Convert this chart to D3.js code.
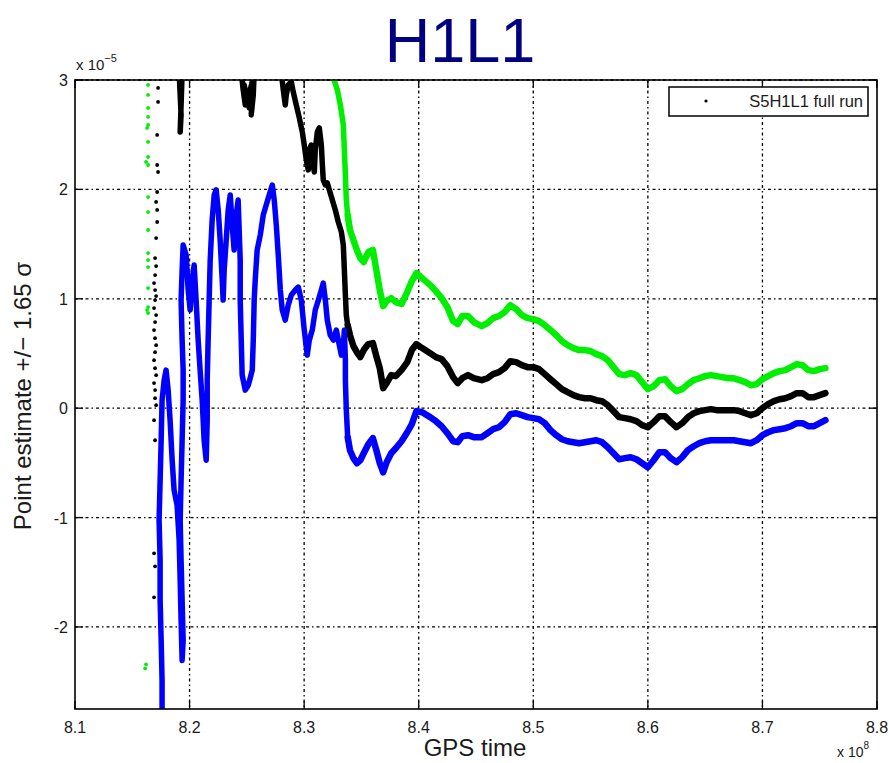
<!DOCTYPE html>
<html><head><meta charset="utf-8">
<script src="https://cdn.jsdelivr.net/npm/d3@7/dist/d3.min.js"></script>
<style>body{margin:0;background:#fff}svg{display:block}</style>
</head><body><svg id="c" width="889" height="763"></svg>
<script>
// ---------- data (GPS time in units of 1e8 s, values in units of 1e-5) ----------
const xTicks = [8.1, 8.2, 8.3, 8.4, 8.5, 8.6, 8.7, 8.8];
const yTicks = [-2, -1, 0, 1, 2, 3];
const legendLabel = "S5H1L1 full run";

// settled part of the run: common time grid for all three curves
const tailTime = [8.338,8.340,8.343,8.346,8.349,8.352,8.356,8.360,8.363,8.366,8.369,8.372,8.376,8.380,8.385,8.390,8.394,8.398,8.403,8.410,8.415,8.420,8.425,8.430,8.434,8.438,8.443,8.448,8.455,8.460,8.465,8.470,8.475,8.480,8.485,8.490,8.495,8.500,8.505,8.510,8.515,8.520,8.525,8.530,8.535,8.540,8.545,8.550,8.555,8.560,8.565,8.570,8.575,8.580,8.585,8.590,8.595,8.600,8.605,8.610,8.615,8.620,8.625,8.630,8.635,8.640,8.645,8.650,8.655,8.660,8.665,8.670,8.675,8.680,8.685,8.690,8.695,8.700,8.705,8.710,8.715,8.720,8.725,8.730,8.735,8.740,8.745,8.750,8.755];
const tailGreen = [1.766,1.629,1.537,1.446,1.372,1.336,1.427,1.446,1.263,1.080,0.933,0.979,1.006,0.970,0.952,1.061,1.162,1.235,1.189,1.125,1.070,1.006,0.924,0.796,0.769,0.842,0.842,0.787,0.750,0.778,0.823,0.842,0.878,0.942,0.906,0.851,0.823,0.814,0.796,0.759,0.714,0.668,0.613,0.576,0.549,0.531,0.531,0.522,0.494,0.476,0.439,0.375,0.311,0.302,0.320,0.302,0.238,0.174,0.201,0.256,0.265,0.201,0.156,0.174,0.220,0.256,0.274,0.293,0.302,0.293,0.284,0.274,0.274,0.256,0.238,0.210,0.220,0.265,0.293,0.320,0.339,0.348,0.375,0.403,0.393,0.348,0.339,0.357,0.366];
const tailBlack = [0.759,0.668,0.567,0.512,0.467,0.531,0.586,0.595,0.476,0.366,0.183,0.229,0.302,0.293,0.348,0.421,0.531,0.586,0.549,0.503,0.467,0.448,0.384,0.284,0.229,0.274,0.302,0.274,0.256,0.274,0.311,0.329,0.366,0.430,0.421,0.393,0.375,0.375,0.357,0.311,0.265,0.220,0.174,0.146,0.119,0.101,0.091,0.091,0.073,0.064,0.027,-0.027,-0.082,-0.091,-0.101,-0.119,-0.155,-0.174,-0.128,-0.073,-0.073,-0.128,-0.174,-0.137,-0.082,-0.046,-0.027,-0.018,-0.009,-0.018,-0.018,-0.018,-0.018,-0.027,-0.046,-0.064,-0.046,0.000,0.037,0.064,0.082,0.091,0.110,0.137,0.137,0.101,0.101,0.119,0.137];
const tailBlue = [-0.265,-0.384,-0.457,-0.503,-0.476,-0.412,-0.329,-0.274,-0.384,-0.503,-0.586,-0.494,-0.412,-0.366,-0.302,-0.220,-0.146,-0.027,-0.037,-0.082,-0.119,-0.165,-0.229,-0.302,-0.311,-0.256,-0.247,-0.265,-0.265,-0.229,-0.192,-0.174,-0.128,-0.055,-0.046,-0.064,-0.082,-0.091,-0.101,-0.137,-0.201,-0.247,-0.284,-0.302,-0.311,-0.320,-0.311,-0.302,-0.293,-0.311,-0.357,-0.412,-0.467,-0.457,-0.448,-0.467,-0.503,-0.540,-0.476,-0.403,-0.403,-0.457,-0.494,-0.448,-0.384,-0.348,-0.320,-0.302,-0.293,-0.293,-0.293,-0.293,-0.293,-0.302,-0.311,-0.320,-0.293,-0.247,-0.220,-0.201,-0.192,-0.183,-0.165,-0.137,-0.137,-0.165,-0.165,-0.137,-0.110];

// early, unsettled part (null = gap in the record)
const greenEarlyTime = [8.3237,8.3255,8.3290,8.3316,8.3342,8.3351,8.3360,8.3368,8.338];
const greenEarlyVal  = [3.092,3.019,2.909,2.772,2.589,2.360,2.132,1.903,1.766];
const greenDotTime = [8.1638,8.1638,8.1638,8.1638,8.1638,8.1638,8.1629,8.1638,8.1638,8.1620,8.1638,8.1638,8.1638,8.1638,8.1638,8.1638,8.1638,8.1638,8.1638,8.1629,8.1638,8.1612,8.1620];
const greenDotVal  = [3.019,2.955,2.864,2.745,2.662,2.589,2.562,2.434,2.296,2.251,2.223,1.930,1.793,1.629,1.418,1.354,1.290,1.098,0.924,0.897,0.869,-2.379,-2.342];

const blackEarlyTime = [8.1909,8.1918,8.1926,8.1918,8.1926,8.1935,null,
  8.2451,8.2468,8.2486,8.2494,8.2477,8.2503,8.2521,8.2529,8.2547,8.2547,8.2538,8.2556,8.2564,null,
  8.2800,8.2818,8.2835,8.2844,8.2861,8.2888,8.2905,8.2931,8.2958,8.2984,8.3001,8.3019,8.3036,8.3045,8.3062,8.3071,8.3089,8.3097,8.3115,8.3132,8.3150,8.3159,8.3167,8.3185,8.3202,8.3220,8.3246,8.3272,8.3298,8.3325,8.3342,8.3351,8.3360,8.3368,8.338];
const blackEarlyVal = [3.074,2.864,2.681,2.525,2.772,3.074,null,
  3.074,2.909,2.772,2.864,2.955,2.818,2.745,2.909,2.983,2.818,2.681,2.864,3.074,null,
  3.074,2.909,2.772,2.864,2.955,2.983,2.891,2.772,2.653,2.525,2.406,2.269,2.178,2.360,2.406,2.269,2.159,2.360,2.525,2.562,2.406,2.223,2.086,2.040,2.059,1.995,1.903,1.812,1.702,1.610,1.491,1.263,1.034,0.851,0.759];
const blackDotTime = [8.1725,8.1725,8.1717,8.1717,8.1725,8.1717,8.1708,8.1717,8.1717,8.1708,8.1699,8.1708,8.1699,8.1690,8.1699,8.1708,8.1699,8.1690,8.1708,8.1699,8.1690,8.1699,8.1708,8.1699,8.1690,8.1699,8.1708,8.1690,8.1699,8.1699,8.1708,8.1690,8.1699,8.1690,8.1699,8.1690];
const blackDotVal  = [2.928,2.800,2.498,2.223,2.159,1.976,1.885,1.812,1.702,1.555,1.372,1.299,1.217,1.144,1.080,1.025,0.988,0.915,0.851,0.787,0.714,0.640,0.576,0.512,0.439,0.366,0.302,0.229,0.165,0.091,0.027,-0.110,-0.293,-1.327,-1.446,-1.729];

const blueEarlyTime = [8.1760,8.1760,8.1752,8.1743,8.1743,8.1734,8.1743,8.1752,8.1760,8.1778,8.1795,8.1813,8.1830,8.1848,8.1865,8.1891,8.1909,8.1918,8.1926,8.1935,8.1944,8.1935,8.1926,8.1918,8.1926,8.1935,8.1944,8.1944,8.1935,8.1926,8.1935,8.1944,8.1970,8.1988,8.2005,8.2022,8.2040,8.2057,8.2075,8.2092,8.2110,8.2127,8.2145,8.2154,8.2154,8.2162,8.2171,8.2180,8.2197,8.2215,8.2232,8.2250,8.2267,8.2285,8.2293,8.2302,8.2320,8.2337,8.2355,8.2372,8.2389,8.2407,8.2424,8.2433,8.2442,8.2442,8.2451,8.2459,8.2486,8.2512,8.2529,8.2547,8.2556,8.2564,8.2573,8.2590,8.2617,8.2643,8.2669,8.2695,8.2722,8.2739,8.2757,8.2774,8.2792,8.2809,8.2835,8.2861,8.2888,8.2923,8.2949,8.2975,8.3001,8.3027,8.3045,8.3071,8.3097,8.3124,8.3150,8.3167,8.3185,8.3202,8.3228,8.3255,8.3281,8.3307,8.3325,8.3342,8.3351,8.3360,8.3360,8.3368,8.338];
const blueEarlyVal  = [-2.855,-2.489,-2.123,-1.757,-1.391,-1.025,-0.659,-0.293,0.073,0.256,0.348,0.165,-0.110,-0.476,-0.750,-0.887,-1.208,-1.574,-1.940,-2.306,-2.123,-1.757,-1.391,-1.025,-0.659,-0.293,0.073,0.348,0.622,0.988,1.263,1.491,1.400,1.080,0.897,1.171,1.308,0.988,0.622,0.348,0.073,-0.293,-0.476,-0.110,0.256,0.622,0.988,1.354,1.720,1.949,1.995,1.812,1.537,1.171,0.988,1.263,1.537,1.812,1.949,1.674,1.446,1.766,1.903,1.629,1.354,0.988,0.622,0.302,0.165,0.210,0.274,0.348,0.622,0.988,1.171,1.446,1.583,1.766,1.857,1.949,2.040,1.903,1.674,1.400,1.080,0.897,0.805,0.942,1.034,1.080,1.107,0.988,0.714,0.485,0.622,0.714,0.897,0.988,1.080,1.144,0.988,0.805,0.668,0.622,0.714,0.576,0.485,0.576,0.714,0.439,0.256,-0.018,-0.265];

// ---------- layout ----------
const svg = d3.select("#c");
const L = 75, R = 877, T = 80, B = 709;
const x = d3.scaleLinear().domain([8.1, 8.8]).range([L, R]);
const y = d3.scaleLinear().domain([-2.75, 3]).range([B, T]);
const FONT = "'Liberation Sans', Arial, Helvetica, sans-serif";

svg.append("rect").attr("width", 889).attr("height", 763).attr("fill", "#fff");

// title
svg.append("text").attr("x", 460).attr("y", 62).attr("text-anchor", "middle")
  .attr("font-family", FONT).attr("font-size", 63).attr("fill", "#000080").text("H1L1");

// grid
const grid = svg.append("g").attr("stroke", "#000").attr("stroke-width", 1.3).attr("stroke-dasharray", "3,3,1.5,3");
grid.selectAll("line.v").data(xTicks.slice(1, -1)).join("line")
  .attr("x1", d => x(d)).attr("x2", d => x(d)).attr("y1", T).attr("y2", B);
grid.selectAll("line.h").data(yTicks).join("line")
  .attr("y1", d => y(d)).attr("y2", d => y(d)).attr("x1", L).attr("x2", R);

// data
svg.append("clipPath").attr("id", "clip").append("rect")
  .attr("x", L).attr("y", T).attr("width", R - L).attr("height", B - T);
const plot = svg.append("g").attr("clip-path", "url(#clip)");
const zip = (a, b) => a.map((t, i) => [t, b[i]]);
const line = d3.line().defined(d => d[0] != null && d[1] != null).x(d => x(d[0])).y(d => y(d[1]));

const series = [
  {color: "#00ee00", early: zip(greenEarlyTime, greenEarlyVal), tail: zip(tailTime, tailGreen), dots: zip(greenDotTime, greenDotVal)},
  {color: "#000000", early: zip(blackEarlyTime, blackEarlyVal), tail: zip(tailTime, tailBlack), dots: zip(blackDotTime, blackDotVal)},
  {color: "#0000ff", early: zip(blueEarlyTime, blueEarlyVal), tail: zip(tailTime, tailBlue), dots: []}
];
series.forEach(s => {
  plot.append("path").attr("d", line(s.early)).attr("fill", "none").attr("stroke", s.color)
    .attr("stroke-width", 5.5).attr("stroke-linejoin", "round").attr("stroke-linecap", "round");
  plot.append("path").attr("d", line(s.tail)).attr("fill", "none").attr("stroke", s.color)
    .attr("stroke-width", 6.5).attr("stroke-linejoin", "round").attr("stroke-linecap", "round");
  plot.selectAll(null).data(s.dots).join("circle")
    .attr("cx", d => x(d[0])).attr("cy", d => y(d[1])).attr("r", 1.9).attr("fill", s.color);
});

// axes box + ticks (inside)
svg.append("rect").attr("x", L).attr("y", T).attr("width", R - L).attr("height", B - T)
  .attr("fill", "none").attr("stroke", "#000").attr("stroke-width", 1.6);
const tk = 8;
const ticks = svg.append("g").attr("stroke", "#000").attr("stroke-width", 1.3);
xTicks.forEach(d => {
  ticks.append("line").attr("x1", x(d)).attr("x2", x(d)).attr("y1", B).attr("y2", B - tk);
  ticks.append("line").attr("x1", x(d)).attr("x2", x(d)).attr("y1", T).attr("y2", T + tk);
});
yTicks.forEach(d => {
  ticks.append("line").attr("y1", y(d)).attr("y2", y(d)).attr("x1", L).attr("x2", L + tk);
  ticks.append("line").attr("y1", y(d)).attr("y2", y(d)).attr("x1", R).attr("x2", R - tk);
});

// tick labels
svg.selectAll("text.xt").data(xTicks).join("text")
  .attr("x", d => x(d)).attr("y", 733).attr("text-anchor", "middle")
  .attr("font-family", FONT).attr("font-size", 16).attr("fill", "#1a1a1a").text(d => d.toFixed(1));
svg.selectAll("text.yt").data(yTicks).join("text")
  .attr("x", 68).attr("y", d => y(d) + 6).attr("text-anchor", "end")
  .attr("font-family", FONT).attr("font-size", 16).attr("fill", "#1a1a1a").text(d => d < 0 ? "-" + Math.abs(d) : d);

// exponent labels
const e1 = svg.append("text").attr("x", 76).attr("y", 70).attr("font-family", FONT).attr("font-size", 15).attr("fill", "#1a1a1a");
e1.append("tspan").text("x 10");
e1.append("tspan").attr("dy", -8).attr("font-size", 11).text("\u22125");
const e2 = svg.append("text").attr("x", 837).attr("y", 757).attr("font-family", FONT).attr("font-size", 14).attr("fill", "#1a1a1a");
e2.append("tspan").text("x 10");
e2.append("tspan").attr("dy", -8).attr("font-size", 10).text("8");

// axis titles
svg.append("text").attr("x", 475).attr("y", 756).attr("text-anchor", "middle")
  .attr("font-family", FONT).attr("font-size", 24).attr("fill", "#1a1a1a").text("GPS time");
svg.append("text").attr("transform", "translate(31,396) rotate(-90)").attr("text-anchor", "middle")
  .attr("font-family", FONT).attr("font-size", 24).attr("fill", "#1a1a1a").text("Point estimate +/\u2212 1.65 \u03c3");

// legend
svg.append("rect").attr("x", 669).attr("y", 87).attr("width", 199).attr("height", 29)
  .attr("fill", "#fff").attr("stroke", "#000").attr("stroke-width", 1.5);
svg.append("circle").attr("cx", 706).attr("cy", 101).attr("r", 1.6).attr("fill", "#000");
svg.append("text").attr("x", 863).attr("y", 107).attr("text-anchor", "end")
  .attr("font-family", FONT).attr("font-size", 16.5).attr("fill", "#1a1a1a").text(legendLabel);
</script></body></html>
